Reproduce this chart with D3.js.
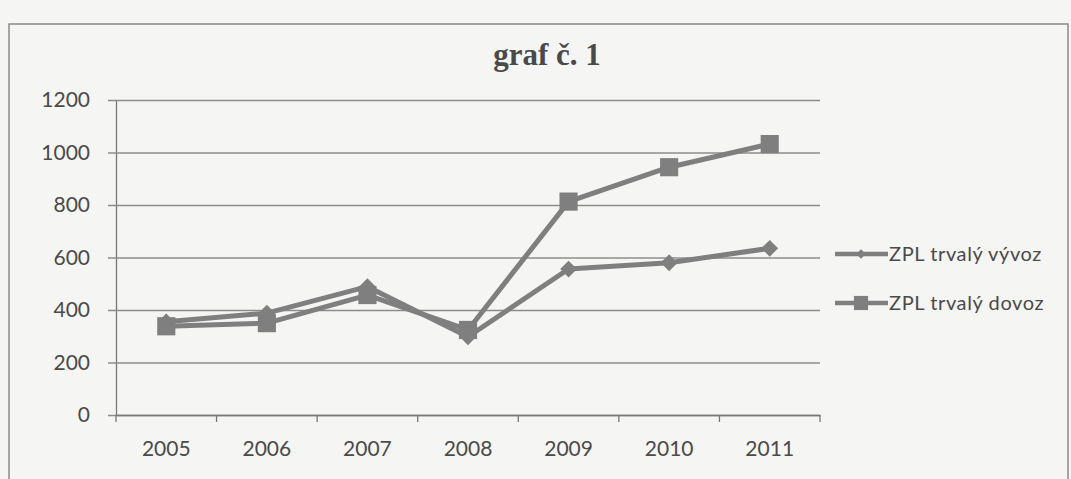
<!DOCTYPE html>
<html>
<head>
<meta charset="utf-8">
<script src="https://cdn.jsdelivr.net/npm/d3@7"></script>
<style>
  body { margin: 0; background: #f5f5f3; }
</style>
</head>
<body>
<div id="chart"></div>
<script>
const years = [ '2005', '2006', '2007', '2008', '2009', '2010', '2011' ];
const vyvoz = [ 355, 388, 489, 298, 556, 580, 635 ];
const dovoz = [ 338, 350, 457, 324, 813, 944, 1032 ];
const yTicks = [ 0, 200, 400, 600, 800, 1000, 1200 ];
const seriesNames = [ 'ZPL trvalý vývoz', 'ZPL trvalý dovoz' ];

const figure_width = 1071;
const figure_height = 479;
const plot_margin = { top: 100, left: 116, right: 251, bottom: 64 };
const plot_width = figure_width - plot_margin.left - plot_margin.right;
const plot_height = figure_height - plot_margin.top - plot_margin.bottom;

const lineColor = '#7f7f7f';
const labelStyle = 'font-size:21px; font-family:Lato, sans-serif; fill:#4a4a4a;';

const root = d3.select( 'div#chart' )
  .append( 'svg' )
    .attr( 'width', figure_width )
    .attr( 'height', figure_height );

// frame of the chart
root.append( 'path' )
  .attr( 'd', 'M9,' + figure_height + ' V24 H1068 V' + figure_height )
  .attr( 'fill', 'none' )
  .attr( 'stroke', '#8a8a8a' )
  .attr( 'stroke-width', 1.5 );

root.append( 'text' )
  .attr( 'x', 547 )
  .attr( 'y', 65 )
  .attr( 'text-anchor', 'middle' )
  .attr( 'style', 'font-size:31px; font-weight:bold; font-family:"Liberation Serif", serif; fill:#4a4a4a;' )
  .text( 'graf č. 1' );

const svg = root.append( 'g' )
  .attr( 'transform', 'translate(' + plot_margin.left + ',' + plot_margin.top + ')' );

const x = d3.scaleBand()
  .domain( years )
  .range( [ 0, plot_width ] );

const y = d3.scaleLinear()
  .domain( [ 0, 1200 ] )
  .range( [ plot_height, 0 ] );

// gridlines + y axis
const yAxis = svg.append( 'g' )
  .call( d3.axisLeft( y ).tickValues( yTicks ).tickFormat( d3.format( 'd' ) )
    .tickSize( -plot_width ).tickSizeOuter( 0 ).tickPadding( 26 ) );
yAxis.select( '.domain' ).attr( 'stroke', '#777' ).attr( 'stroke-width', 1.3 );
yAxis.selectAll( '.tick line' )
  .attr( 'x1', -8 )
  .attr( 'stroke', '#8c8c8c' )
  .attr( 'stroke-width', 1.3 );
yAxis.selectAll( '.tick text' ).attr( 'style', labelStyle );

// x axis, ticks sit between the categories
const xAxis = svg.append( 'g' )
  .attr( 'transform', 'translate(0,' + plot_height + ')' )
  .call( d3.axisBottom( x ).tickSize( 0 ).tickPadding( 26 ) );
xAxis.select( '.domain' ).attr( 'stroke', '#777' ).attr( 'stroke-width', 1.3 );
xAxis.selectAll( '.tick text' ).attr( 'style', labelStyle );
xAxis.selectAll( 'line.sep' )
  .data( years.concat( [ 'end' ] ) )
  .enter()
  .append( 'line' )
    .attr( 'class', 'sep' )
    .attr( 'x1', function( d, i ) { return i * x.step(); } )
    .attr( 'x2', function( d, i ) { return i * x.step(); } )
    .attr( 'y1', 0 )
    .attr( 'y2', 7 )
    .attr( 'stroke', '#777' )
    .attr( 'stroke-width', 1.3 );

const cx = function( d, i ) { return x( years[ i ] ) + x.bandwidth() / 2; };

const line = d3.line()
  .x( cx )
  .y( function( d ) { return y( d ); } );

const diamond = d3.symbol().type( d3.symbolDiamond2 ).size( 180 );
const square = d3.symbol().type( d3.symbolSquare ).size( 330 );

// series 2 (dovoz) first, vyvoz drawn on top
svg.append( 'path' )
  .datum( dovoz )
  .attr( 'd', line )
  .attr( 'fill', 'none' )
  .attr( 'stroke', lineColor )
  .attr( 'stroke-width', 5 )
  .attr( 'stroke-linejoin', 'round' );
svg.selectAll( 'path.sq' )
  .data( dovoz )
  .enter()
  .append( 'path' )
    .attr( 'class', 'sq' )
    .attr( 'd', square )
    .attr( 'transform', function( d, i ) { return 'translate(' + cx( d, i ) + ',' + y( d ) + ')'; } )
    .attr( 'fill', lineColor );

svg.append( 'path' )
  .datum( vyvoz )
  .attr( 'd', line )
  .attr( 'fill', 'none' )
  .attr( 'stroke', lineColor )
  .attr( 'stroke-width', 5 )
  .attr( 'stroke-linejoin', 'round' );
svg.selectAll( 'path.dia' )
  .data( vyvoz )
  .enter()
  .append( 'path' )
    .attr( 'class', 'dia' )
    .attr( 'd', diamond )
    .attr( 'transform', function( d, i ) { return 'translate(' + cx( d, i ) + ',' + y( d ) + ')'; } )
    .attr( 'fill', lineColor );

// legend
const legend = root.append( 'g' )
  .attr( 'transform', 'translate(835,254)' );
const markers = [ d3.symbol().type( d3.symbolDiamond2 ).size( 60 ), d3.symbol().type( d3.symbolSquare ).size( 200 ) ];
const items = legend.selectAll( 'g' )
  .data( seriesNames )
  .enter()
  .append( 'g' )
    .attr( 'transform', function( d, i ) { return 'translate(0,' + ( i * 49 ) + ')'; } );
items.append( 'line' )
  .attr( 'x1', 0 ).attr( 'x2', 53 )
  .attr( 'stroke', lineColor )
  .attr( 'stroke-width', 4.5 );
items.append( 'path' )
  .attr( 'd', function( d, i ) { return markers[ i ](); } )
  .attr( 'transform', 'translate(26,0)' )
  .attr( 'fill', lineColor );
items.append( 'text' )
  .attr( 'x', 54 )
  .attr( 'dy', '0.35em' )
  .attr( 'style', 'font-size:20px; letter-spacing:0.6px; font-family:Lato, sans-serif; fill:#4a4a4a;' )
  .text( function( d ) { return d; } );
</script>
</body>
</html>
